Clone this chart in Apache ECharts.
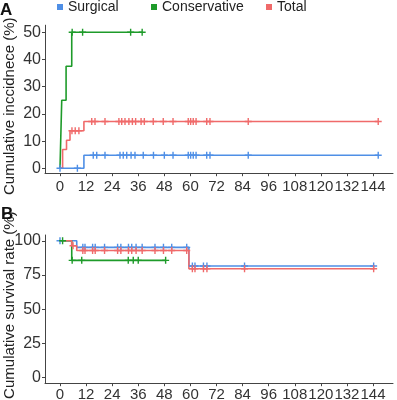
<!DOCTYPE html>
<html>
<head>
<meta charset="utf-8">
<script src="https://cdn.jsdelivr.net/npm/echarts@6/dist/echarts.min.js"></script>
<style>
html, body { margin: 0; padding: 0; background: #fff; }
#chart { width: 397px; height: 400px; }
</style>
</head>
<body>
<div id="chart"></div>
<script>
const seriesNames = ['Surgical', 'Conservative', 'Total'];
const colors = ['#4F8FE6', '#1E9B2A', '#F06A6A'];

const monthTicks = [0, 12, 24, 36, 48, 60, 72, 84, 96, 108, 120, 132, 144];
const incidenceTicks = [0, 10, 20, 30, 40, 50];
const survivalTicks = [0, 25, 50, 75, 100];

// Panel A - cumulative incidence, [month, %] where the curve steps
const incSurgical = [[0, 0], [11, 4.8]];
const incConservative = [[0, 0], [0.8, 25], [2.8, 37.5], [5.4, 50]];
const incTotal = [[0, 0], [1.2, 6.9], [3, 10.3], [4.6, 13.8], [11, 17.2]];

// censored times (months)
const incSurgicalCensor = [0, 8, 15.3, 16.9, 20.7, 27.6, 29.1, 30.7, 32.7, 34.5, 38.3, 43, 48, 52,
    59, 60.1, 61.3, 62.6, 67.5, 69, 86.6, 146.4];
const incConservativeCensor = [5.6, 10.4, 32.5, 37.8];
const incTotalCensor = [5.5, 7, 8.7, 14.6, 16.1, 20.7, 27.1, 28.4, 29.9, 31.7, 33.3, 34.8, 37.3, 38.8,
    42.9, 47.5, 52, 59, 60.1, 61.3, 62.6, 67.5, 69, 86.6, 146.4];

// Panel B - cumulative survival
const survSurgical = [[0, 100], [7.7, 95.2], [59.3, 81.6]];
const survConservative = [[0, 100], [5.4, 85.7]];
const survTotal = [[0, 100], [5.4, 96.4], [7.7, 92.9], [59.3, 79.6]];

const survSurgicalCensor = [0, 10.5, 11.5, 15, 16.2, 20.5, 26.5, 28, 31.5, 33, 35, 37.8, 43.7, 47.6,
    51.4, 58.3, 60.9, 62.1, 66, 67.6, 84.9, 144.3];
const survConservativeCensor = [1.2, 5.6, 10, 31.4, 33.7, 36, 48.6];
const survTotalCensor = [6, 10.5, 11.5, 15, 16.2, 20.5, 26.5, 28, 31.5, 33, 35, 37.8, 43.7, 47.6,
    51.4, 58.3, 60.9, 62.1, 66, 67.6, 84.9, 144.3];

const plusSymbol = 'path://M4,0H6V4H10V6H6V10H4V6H0V4H4Z';

function levelAt(steps, t) {
    let v = steps[0][1];
    for (const s of steps) {
        if (s[0] <= t) v = s[1];
    }
    return v;
}

function curveSeries(name, color, steps, censor, panel) {
    const end = censor[censor.length - 1];
    const lineData = steps.concat([[end, steps[steps.length - 1][1]]]);
    return [
        {
            name: name,
            type: 'line',
            step: 'end',
            xAxisIndex: panel,
            yAxisIndex: panel,
            data: lineData,
            showSymbol: false,
            lineStyle: { color: color, width: 1.6 },
            itemStyle: { color: color },
            z: 2
        },
        {
            name: name,
            type: 'scatter',
            xAxisIndex: panel,
            yAxisIndex: panel,
            data: censor.map(t => [t, levelAt(steps, t)]),
            symbol: plusSymbol,
            symbolSize: 7,
            itemStyle: { color: color, opacity: 1 },
            z: 3
        }
    ];
}

const axisColor = '#444';

function xAxisFor(panel, margin) {
    return {
        type: 'value',
        gridIndex: panel,
        min: -6.9,
        max: 153.2,
        axisLine: { show: true, onZero: false, lineStyle: { color: axisColor, width: 1 } },
        axisTick: { show: true, length: 3, lineStyle: { color: axisColor }, customValues: monthTicks },
        axisLabel: {
            margin: margin, customValues: monthTicks, hideOverlap: false,
            showMinLabel: true, showMaxLabel: true,
            fontFamily: 'Liberation Sans', fontSize: 15, color: '#333'
        },
        splitLine: { show: false }
    };
}

function yAxisFor(panel, min, max, ticks, title, namePadding) {
    return {
        type: 'value',
        gridIndex: panel,
        min: min,
        max: max,
        name: title,
        nameLocation: 'middle',
        nameGap: 28,
        nameMoveOverlap: false,
        nameTextStyle: { fontFamily: 'Liberation Sans', fontSize: 15, color: '#222', padding: namePadding },
        axisLine: { show: true, onZero: false, lineStyle: { color: axisColor, width: 1 } },
        axisTick: { show: true, length: 3, lineStyle: { color: axisColor }, customValues: ticks },
        axisLabel: {
            margin: 4, customValues: ticks, showMinLabel: true, showMaxLabel: true,
            fontFamily: 'Liberation Sans', fontSize: 16, color: '#333'
        },
        splitLine: { show: false }
    };
}

function legendFor(name, left) {
    return {
        data: [name],
        left: left,
        top: 0,
        padding: 0,
        icon: 'rect',
        itemWidth: 6,
        itemHeight: 6,
        itemGap: 5,
        textStyle: { fontFamily: 'Liberation Sans', fontSize: 14, color: '#222' }
    };
}

const option = {
    animation: false,
    backgroundColor: '#fff',
    title: [
        { text: 'A', left: 0, top: 2, padding: 0,
          textStyle: { fontFamily: 'Liberation Sans', fontWeight: 'bold', fontSize: 17, color: '#111' } },
        { text: 'B', left: 1, top: 206, padding: 0,
          textStyle: { fontFamily: 'Liberation Sans', fontWeight: 'bold', fontSize: 17, color: '#111' } }
    ],
    legend: [
        legendFor('Surgical', 57),
        legendFor('Conservative', 151),
        legendFor('Total', 266)
    ],
    grid: [
        { left: 45, right: 4, top: 25.2, height: 148, outerBoundsMode: 'none' },
        { left: 45, right: 4, top: 235, height: 148.2, outerBoundsMode: 'none' }
    ],
    xAxis: [xAxisFor(0, 6), xAxisFor(1, 4)],
    yAxis: [
        yAxisFor(0, -1.8, 52.6, incidenceTicks, 'Cumulative inccidnece (%)', [0, 14, 0, 0]),
        yAxisFor(1, -4, 104.2, survivalTicks, 'Cumulative survival rate (%)', [0, 0, 0, 8])
    ],
    series: [].concat(
        curveSeries(seriesNames[0], colors[0], incSurgical, incSurgicalCensor, 0),
        curveSeries(seriesNames[1], colors[1], incConservative, incConservativeCensor, 0),
        curveSeries(seriesNames[2], colors[2], incTotal, incTotalCensor, 0),
        curveSeries(seriesNames[0], colors[0], survSurgical, survSurgicalCensor, 1),
        curveSeries(seriesNames[1], colors[1], survConservative, survConservativeCensor, 1),
        curveSeries(seriesNames[2], colors[2], survTotal, survTotalCensor, 1)
    )
};

const chart = echarts.init(document.getElementById('chart'));
chart.setOption(option);
</script>
</body>
</html>
